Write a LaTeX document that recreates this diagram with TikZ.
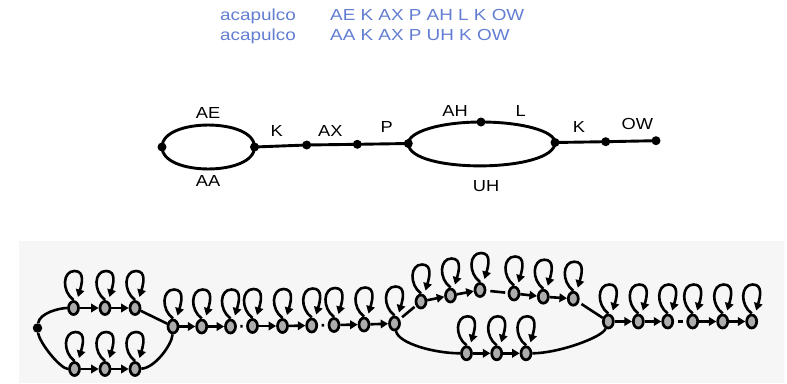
\documentclass[tikz,border=0pt]{standalone}
\usepackage{fontspec}
\setmainfont{Liberation Sans}
\usetikzlibrary{arrows.meta,shapes.geometric,calc}
\definecolor{txtblue}{RGB}{98,125,210}
\definecolor{stategray}{RGB}{172,172,172}
\definecolor{panelbg}{RGB}{246,246,246}
\newcommand{\myhs}[2]{\scalebox{#1}[1]{#2}}
\begin{document}
\begin{tikzpicture}[x=1pt,y=-1pt,
  toptext/.style={anchor=base west, inner sep=0pt, text=txtblue, font=\fontsize{16}{19}\selectfont},
  lab/.style={anchor=base, inner sep=0pt, font=\fontsize{16}{19}\selectfont},
  pdot/.style={circle, fill=black, inner sep=0pt, minimum size=9pt},
  pline/.style={line width=2.9pt},
  state/.style={ellipse, draw=black, fill=stategray, line width=2.7pt, minimum width=10pt, minimum height=13pt, inner sep=0pt},
  sdot/.style={circle, fill=black, inner sep=0pt, minimum size=9.5pt},
  arr/.style={line width=2.6pt, -{Triangle[length=7.5pt,width=8.5pt]}},
  plain/.style={line width=2.6pt},
  loopst/.style={line width=2.6pt, -{Triangle[length=7.5pt,width=8.5pt]}},
]
\useasboundingbox (0,0) rectangle (787,383);
\fill[panelbg] (19,241) rectangle (784,383);

% top text
\node[toptext] (t1) at (220,20.5) {\myhs{1.18}{acapulco}};
\node[toptext] (t2) at (330,20.5) {\myhs{1.18}{AE K AX P AH L K OW}};
\node[toptext] (t3) at (220,40.5) {\myhs{1.18}{acapulco}};
\node[toptext] (t4) at (330,40.5) {\myhs{1.18}{AA K AX P UH K OW}};

% middle pronunciation graph
\node[pdot] (m0) at (162,147) {};
\node[pdot] (m1) at (254.5,147) {};
\node[pdot] (m2) at (306.7,145) {};
\node[pdot] (m3) at (357.3,144.3) {};
\node[pdot] (m4) at (408.3,143.5) {};
\node[pdot] (mt) at (481,122) {};
\node[pdot] (m5) at (555,142.5) {};
\node[pdot] (m6) at (605.7,141.7) {};
\node[pdot] (m7) at (656,140.7) {};
\draw[pline] (m0.center) .. controls +(0,-29.3) and +(0,-29.3) .. (m1.center);
\draw[pline] (m0.center) .. controls +(0,29.3) and +(0,29.3) .. (m1.center);
\draw[pline] (m1.center) -- (m2.center) -- (m3.center) -- (m4.center);
\draw[pline] (m4.center) .. controls +(0,-11.9) and +(-40.1,0) .. (mt.center)
  .. controls +(40.9,0) and +(0,-11.3) .. (m5.center);
\draw[pline] (m4.center) .. controls +(0,30.5) and +(0,30.5) .. (m5.center);
\draw[pline] (m5.center) -- (m6.center) -- (m7.center);

\node[lab] (lAE) at (208,118.3) {\myhs{1.14}{AE}};
\node[lab] (lAA) at (208,186.7) {\myhs{1.14}{AA}};
\node[lab] (lK1) at (276.7,136) {\myhs{1.14}{K}};
\node[lab] (lAX) at (330.3,136) {\myhs{1.14}{AX}};
\node[lab] (lP) at (386.7,132.7) {\myhs{1.14}{P}};
\node[lab] (lAH) at (455,116) {\myhs{1.14}{AH}};
\node[lab] (lL) at (520.7,116) {\myhs{1.14}{L}};
\node[lab] (lUH) at (486,191.7) {\myhs{1.14}{UH}};
\node[lab] (lK2) at (579,132.7) {\myhs{1.14}{K}};
\node[lab] (lOW) at (637.3,129.3) {\myhs{1.14}{OW}};

% bottom HMM network
\node[sdot] (s0) at (37.5,328) {};
\node[state] (a1) at (73.5,308) {};
\node[state] (a2) at (105,308) {};
\node[state] (a3) at (135,308) {};
\node[state] (b1) at (74.5,369) {};
\node[state] (b2) at (105,369) {};
\node[state] (b3) at (135,369) {};
\node[state] (k1) at (173,326.5) {};
\node[state] (k2) at (201.7,326.5) {};
\node[state] (k3) at (230.5,326.5) {};
\node[state] (x1) at (252.5,326) {};
\node[state] (x2) at (282.5,326) {};
\node[state] (x3) at (311.7,325.5) {};
\node[state] (p1) at (334,325) {};
\node[state] (p2) at (364,324.5) {};
\node[state] (p3) at (394.5,323.5) {};
\node[state] (h1) at (421,301.5) {};
\node[state] (h2) at (450.5,295.5) {};
\node[state] (h3) at (480,290) {};
\node[state] (l1) at (514,293.5) {};
\node[state] (l2) at (543.3,296.7) {};
\node[state] (l3) at (573.3,298.7) {};
\node[state] (u1) at (466.5,353.3) {};
\node[state] (u2) at (496.7,353.3) {};
\node[state] (u3) at (526,353.3) {};
\node[state] (c1) at (608.3,321.5) {};
\node[state] (c2) at (638.3,321.5) {};
\node[state] (c3) at (667.7,321.5) {};
\node[state] (o1) at (692.7,321.5) {};
\node[state] (o2) at (722.7,321.5) {};
\node[state] (o3) at (751.7,321.5) {};

\draw[plain] (s0) .. controls +(2,-15) and +(-14,0) .. (a1);
\draw[plain] (s0) .. controls +(2,15) and +(-14,0) .. (b1);
\draw[plain] (a3) -- (k1);
\draw[plain] (b3) .. controls +(20,-1) and +(-1,18) .. (k1);
\draw[plain, shorten <=3.5pt, shorten >=3.5pt] (k3) -- (x1);
\draw[plain, shorten <=3.5pt, shorten >=3.5pt] (x3) -- (p1);
\draw[plain, shorten <=3pt, shorten >=1.5pt] (p3) -- (h1);
\draw[plain, shorten <=4pt, shorten >=2.5pt] (h3) -- (l1);
\draw[plain, shorten <=3pt] (l3) -- (c1);
\draw[plain] (p3) .. controls +(4,20) and +(-32,0) .. (u1);
\draw[plain] (u3) .. controls +(32,0) and +(-6,16) .. (c1);
\draw[plain, shorten <=3.5pt, shorten >=3.5pt] (c3) -- (o1);

\foreach \u/\v in {a1/a2,a2/a3,b1/b2,b2/b3,k1/k2,k2/k3,x1/x2,x2/x3,p1/p2,p2/p3,
  h1/h2,h2/h3,l1/l2,l2/l3,u1/u2,u2/u3,c1/c2,c2/c3,o1/o2,o2/o3}
  \draw[arr] (\u) -- (\v);

\foreach \n in {a1,a2,a3,b1,b2,b3,k1,k2,k3,x1,x2,x3,p1,p2,p3,h1,h2,h3,l1,l2,l3,u1,u2,u3,c1,c2,c3,o1,o2,o3}
  \draw[loopst] ($(\n.center)+(0,-8)$) .. controls ($(\n.center)+(-12,-17)$) and ($(\n.center)+(-11,-37)$) .. ($(\n.center)+(1,-37)$)
    .. controls ($(\n.center)+(12,-37)$) and ($(\n.center)+(8,-23)$) .. ($(\n.center)+(4.5,-11)$);
\end{tikzpicture}
\end{document}
